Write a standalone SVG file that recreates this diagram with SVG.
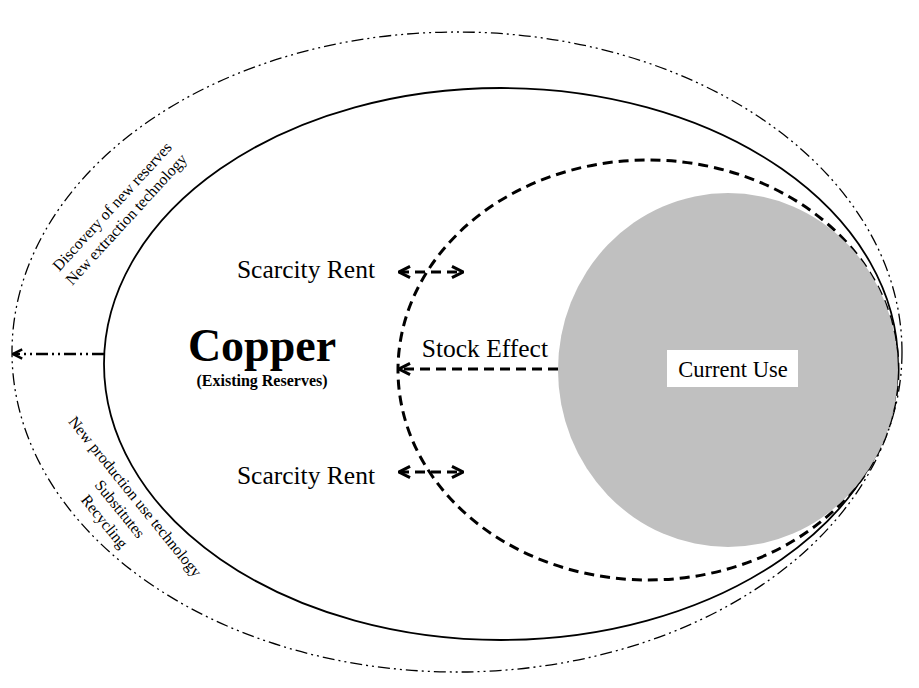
<svg xmlns="http://www.w3.org/2000/svg" width="919" height="688" viewBox="0 0 919 688">
<style>
text{font-family:"Liberation Serif","Times New Roman",serif;fill:#000}
.lbl{font-size:25.5px}
.rot{font-size:15.8px;text-anchor:middle}
.dd{fill:none;stroke:#000;stroke-dasharray:12 4 2 4 2 4}
.dash{fill:none;stroke:#000;stroke-width:3;stroke-dasharray:10 6}
</style>
<defs>
<marker id="open" viewBox="0 0 10 10" refX="9" refY="5" markerWidth="4.6" markerHeight="4.6" orient="auto-start-reverse" markerUnits="strokeWidth">
<path d="M1,1 L9,5 L1,9" fill="none" stroke="#000" stroke-width="2.2"/>
</marker>
</defs>
<rect width="919" height="688" fill="#fff"/>
<g id="outer">
<ellipse cx="457" cy="352" rx="445" ry="320" class="dd" stroke-width="1.3"/>
</g>
<g id="copper">
<ellipse cx="501" cy="364" rx="397" ry="276" fill="none" stroke="#000" stroke-width="1.8"/>
<text x="262" y="361" font-size="46" font-weight="bold" text-anchor="middle">Copper</text>
<text x="262" y="386" font-size="16" font-weight="bold" text-anchor="middle">(Existing Reserves)</text>
</g>
<g id="stock">
<ellipse cx="648" cy="370" rx="250" ry="210" class="dash"/>
</g>
<g id="current-use">
<ellipse cx="728" cy="370" rx="170" ry="177" fill="#c0c0c0"/>
<rect x="667" y="350" width="131" height="37" fill="#fff"/>
<text x="733" y="377" text-anchor="middle" style="font-size:22.5px">Current Use</text>
</g>
<g id="labels">
<text x="375" y="278" class="lbl" text-anchor="end">Scarcity Rent</text>
<text x="375" y="484" class="lbl" text-anchor="end">Scarcity Rent</text>
<text x="548" y="357" class="lbl" text-anchor="end">Stock Effect</text>
<g transform="translate(116,210) rotate(-47.5)">
<text class="rot" x="0" y="0">Discovery of new reserves</text>
<text class="rot" x="0" y="19">New extraction technology</text>
</g>
<g transform="translate(131,500) rotate(51)">
<text class="rot" x="0" y="0">New production use technology</text>
<text class="rot" x="0" y="19.5">Substitutes</text>
<text class="rot" x="0" y="39.5">Recycling</text>
</g>
</g>
<g id="connectors">
<line x1="104" y1="354" x2="13" y2="354" class="dd" stroke-width="2.5" marker-end="url(#open)"/>
<line x1="558" y1="369" x2="399" y2="369" class="dash" marker-end="url(#open)"/>
<line x1="399" y1="272" x2="463" y2="272" class="dash" marker-start="url(#open)" marker-end="url(#open)"/>
<line x1="399" y1="472" x2="463" y2="472" class="dash" marker-start="url(#open)" marker-end="url(#open)"/>
</g>
</svg>
